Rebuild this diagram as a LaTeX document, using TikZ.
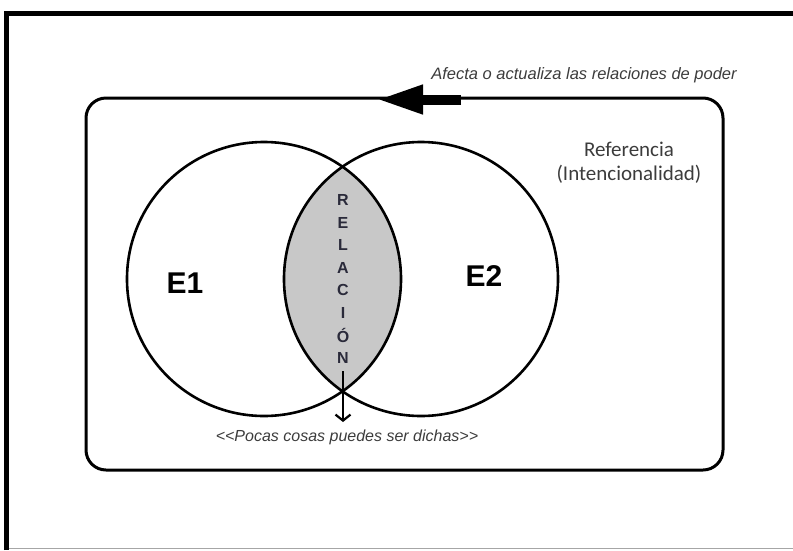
\documentclass[tikz,border=0pt]{standalone}
\usepackage{fontspec}
\setmainfont{Liberation Sans}
\newfontfamily\calibrish{Carlito}
\usetikzlibrary{arrows.meta}

\definecolor{lensgray}{HTML}{C8C8C8}
\definecolor{textgray}{HTML}{3C3C3C}
\definecolor{lettercol}{HTML}{2A2A3A}

\tikzset{
  setcircle/.style={circle, draw=black, line width=2.6, minimum size=274, inner sep=0},
  scopebox/.style={draw=black, line width=3, rounded corners=20, minimum width=637, minimum height=372, inner sep=0},
  note/.style={font=\fontsize{16}{18}\selectfont\itshape, text=textgray, inner sep=0},
  setlabel/.style={font=\fontsize{30}{32}\selectfont\bfseries, inner sep=0},
  vletter/.style={font=\fontsize{16}{17}\selectfont\bfseries, text=lettercol, inner sep=0},
}

\begin{document}
\begin{tikzpicture}[x=1pt, y=-1pt]
  \useasboundingbox (0,0) rectangle (793,550);

  % page frame: heavy top and left rules, faint bottom rule
  \draw[black!35, line width=1] (8,548) -- (793,548);
  \draw[black, line width=5.5, line join=miter] (6.5,550) -- (6.5,13.5) -- (793,13.5);

  % surrounding scope
  \node[scopebox] (scope) at (404.5,284) {};

  % shaded intersection of the two sets
  \begin{scope}
    \clip (264,279) circle (137);
    \fill[lensgray] (421,279) circle (137);
  \end{scope}

  % the two sets
  \node[setcircle] (e1c) at (264,279) {};
  \node[setcircle] (e2c) at (421,279) {};

  \node[setlabel] (e1) at (185,283) {E1};
  \node[setlabel] (e2) at (484,276) {E2};

  % vertical word inside the intersection
  \foreach \ch [count=\i from 0] in {R,E,L,A,C,I,Ó,N}
    \node[vletter] (rel\i) at (343,200+22.6*\i) {\ch};

  % downward arrow out of the lower intersection point
  \coordinate (dstart) at (343,371);
  \coordinate (dend) at (343,422);
  \draw[line width=2.2, -{Straight Barb[length=6, width=15, line width=2.2]}] (dstart) -- (dend);

  \node[note] (pocas) at (347,437) {{<}{<}Pocas cosas puedes ser dichas{>}{>}};

  % heavy arrow on the top edge of the scope
  \coordinate (astart) at (461,99.5);
  \coordinate (aend) at (377,99.5);
  \draw[line width=10, -{Triangle[length=46, width=27]}] (astart) -- (aend);

  \node[note, font=\fontsize{16.5}{18}\selectfont\itshape] (afecta) at (584,75) {Afecta o actualiza las relaciones de poder};

  \node[font=\calibrish\fontsize{21}{24}\selectfont, text=textgray, align=center, inner sep=0] (ref) at (629,163) {Referencia\\[0pt](Intencionalidad)};
\end{tikzpicture}
\end{document}
